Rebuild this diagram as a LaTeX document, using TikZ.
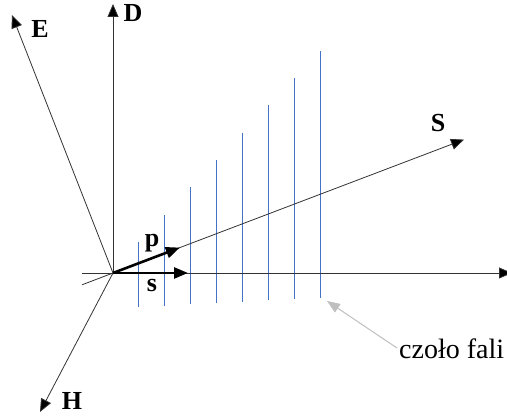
\documentclass[tikz,border=0pt]{standalone}
\usepackage{fontspec}
\setmainfont{Liberation Serif}
\usetikzlibrary{arrows.meta}
\definecolor{wave}{HTML}{4472C4}
\definecolor{pointer}{HTML}{BFBFBF}
\tikzset{
  axis/.style={line width=0.8pt, draw=black!80, -{Triangle[length=13pt,width=11pt,fill=black]}},
  vec/.style={line width=2.6pt, -{Triangle[length=14pt,width=11pt]}, shorten >=-2pt},
  lbl/.style={font=\fontsize{26}{28}\selectfont\bfseries, inner sep=0pt},
  front/.style={draw=wave, line width=0.9pt},
}
\begin{document}
\begin{tikzpicture}[x=1pt,y=-1pt]
\useasboundingbox (0,0) rectangle (507,419);
\coordinate (O) at (113,273);
\coordinate (Dt) at (113,4);
\coordinate (Et) at (12,15);
\coordinate (Ht) at (40,412);
\coordinate (Xs) at (82,273);
\coordinate (Xt) at (512,273);
\coordinate (Sb) at (82,284.8);
\coordinate (St) at (464,139.6);
\coordinate (Pt) at (178,248.3);
\coordinate (st) at (186,273);
% wave fronts
\foreach \i in {0,...,7}{
  \draw[front] ({138+26.1*\i},{242-27.3*\i}) -- ({138+26.1*\i},{307-1.3*\i});
}
\draw[axis] (O) -- (Dt);
\draw[axis] (O) -- (Et);
\draw[axis] (O) -- (Ht);
\draw[axis] (Xs) -- (Xt);
\draw[axis] (Sb) -- (St);
\draw[vec] (O) -- (Pt);
\draw[vec] (O) -- (st);
% labels
\node[lbl] (E) at (40,29) {E};
\node[lbl] (D) at (133,13) {D};
\node[lbl] (S) at (438,123) {S};
\node[lbl] (p) at (152,243) {p};
\node[lbl] (s) at (152,286) {s};
\node[lbl] (H) at (72,401) {H};
\node[font=\fontsize{28}{30}\selectfont, inner sep=0pt, anchor=base west] (cz) at (399,359) {czoło fali};
\coordinate (czp) at (397,348);
\coordinate (czt) at (327,301);
\draw[draw=pointer, line width=1pt, -{Triangle[length=13pt,width=10pt]}] (czp) -- (czt);
\end{tikzpicture}
\end{document}
